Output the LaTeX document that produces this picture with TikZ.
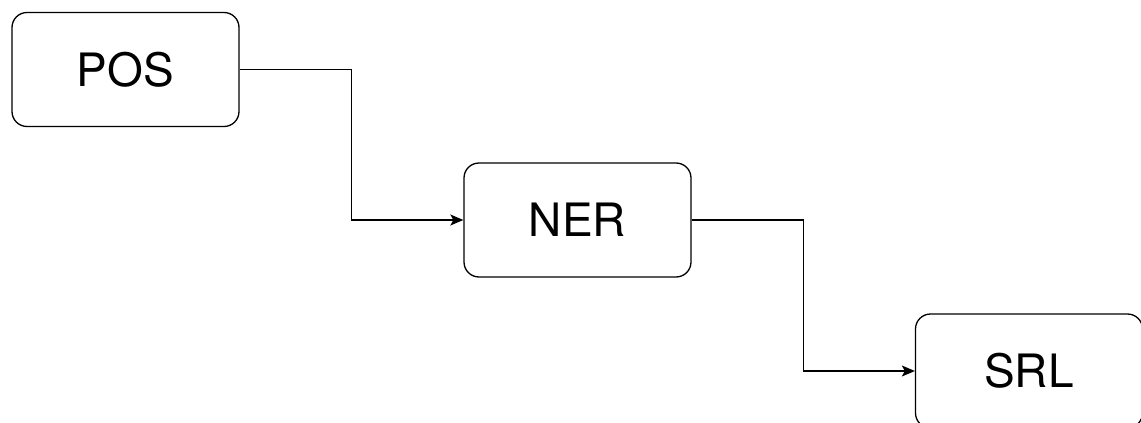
\documentclass[tikz,border=0pt]{standalone}
\usepackage{fontspec}
\setmainfont{TeX Gyre Heros}
\usetikzlibrary{arrows.meta}
\tikzset{
  task/.style={draw, line width=1.3pt, rounded corners=15pt, minimum width=227pt, minimum height=114pt, inner sep=0pt, font=\fontsize{46}{50}\selectfont},
  link/.style={line width=1.3pt, -{Stealth[length=13pt,width=11pt,inset=3pt]}}
}
\begin{document}
\begin{tikzpicture}[x=1pt,y=-1pt]
\useasboundingbox (0,0) rectangle (1141,423) ;
\begin{scope}
\clip (0,0) rectangle (1141,423) ;

\node [task] (pos) at (125.5,69.5) {POS} ;
\node [task] (ner) at (577.5,220) {NER} ;
\node [task] (srl) at (1029,371) {SRL} ;

\draw [link] (pos.east) -- ++(112,0) |- (ner.west) ;
\draw [link] (ner.east) -- ++(112,0) |- (srl.west) ;
\end{scope}

\end{tikzpicture}
\end{document}
